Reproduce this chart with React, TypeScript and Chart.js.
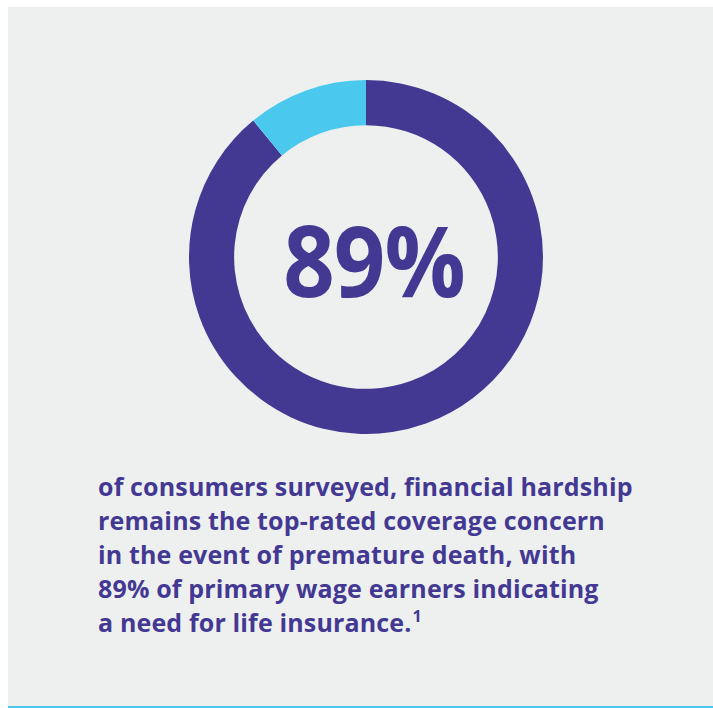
import React, { useEffect, useRef } from "react";
import { Chart, registerables } from "chart.js";

Chart.register(...registerables);

const segmentLabels = ["Indicating a need", "Other"];
const segmentValues = [89, 11];
const segmentColors = ["#433993", "#4bc8ed"];
const headline = "89%";
const bodyLines = [
  "of consumers surveyed, financial hardship",
  "remains the top-rated coverage concern",
  "in the event of premature death, with",
  "89% of primary wage earners indicating",
  "a need for life insurance.",
];
const footnote = "1";

const PURPLE = "#433993";
const FONT = "'Open Sans', 'Noto Sans', sans-serif";

export default function App() {
  const canvasRef = useRef<HTMLCanvasElement | null>(null);

  useEffect(() => {
    const canvas = canvasRef.current;
    if (!canvas) return;
    const chart = new Chart(canvas, {
      type: "doughnut",
      data: {
        labels: segmentLabels,
        datasets: [
          {
            data: segmentValues,
            backgroundColor: segmentColors,
            borderWidth: 0,
            hoverOffset: 0,
          },
        ],
      },
      options: {
        responsive: false,
        animation: false,
        cutout: "74.5%",
        rotation: 0,
        layout: { padding: 0 },
        plugins: {
          legend: { display: false },
          tooltip: { enabled: false },
          title: { display: false },
        },
        events: [],
      },
    });
    return () => chart.destroy();
  }, []);

  return (
    <div
      style={{
        position: "absolute",
        left: 8,
        top: 7,
        width: 705,
        height: 699,
        background: "#eef0ef",
        borderBottom: "2px solid #4bc8ed",
        overflow: "hidden",
      }}
    >
      <canvas
        ref={canvasRef}
        width={354}
        height={354}
        style={{ position: "absolute", left: 181, top: 73, width: 354, height: 354 }}
      />
      <div
        style={{
          position: "absolute",
          left: 366,
          top: 203,
          transform: "translateX(-50%) scaleX(0.92)",
          fontFamily: FONT,
          fontWeight: 700,
          fontSize: 98,
          lineHeight: "98px",
          color: PURPLE,
          whiteSpace: "nowrap",
          letterSpacing: "-1px",
        }}
      >
        {headline}
      </div>
      <div
        style={{
          position: "absolute",
          left: 90,
          top: 462,
          fontFamily: FONT,
          fontWeight: 700,
          fontSize: 25,
          lineHeight: "34px",
          letterSpacing: "0.15px",
          color: PURPLE,
          whiteSpace: "nowrap",
        }}
      >
        {bodyLines.map((line, i) => (
          <div key={i}>
            {line}
            {i === bodyLines.length - 1 ? (
              <span
                style={{
                  fontSize: 16,
                  lineHeight: "16px",
                  verticalAlign: "top",
                  position: "relative",
                  top: 3,
                  marginLeft: 1,
                }}
              >
                {footnote}
              </span>
            ) : null}
          </div>
        ))}
      </div>
    </div>
  );
}
